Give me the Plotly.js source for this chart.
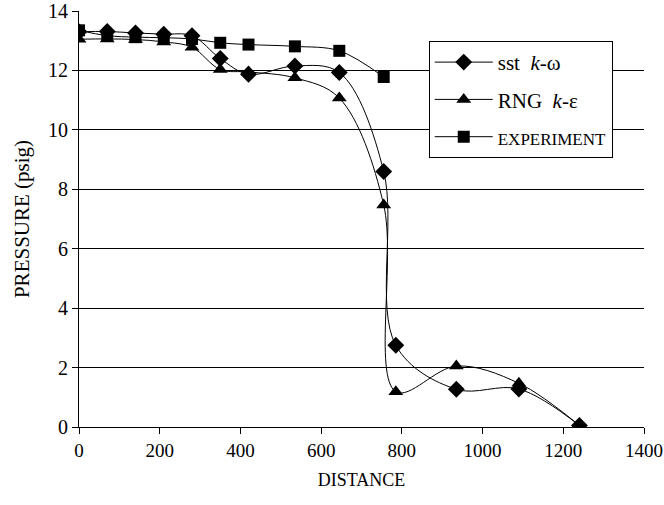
<!DOCTYPE html>
<html>
<head>
<meta charset="utf-8">
<script src="https://cdn.plot.ly/plotly-3.0.1.min.js"></script>
<style>html,body{margin:0;padding:0;background:#fff;}#chart{width:664px;height:505px;}</style>
</head>
<body>
<div id="chart"></div>
<script>
// Data
const simDistance = [0, 70, 140, 210, 280, 350, 420, 535, 645, 755, 785, 935, 1090, 1240];
const sstPressure = [13.3, 13.31, 13.26, 13.22, 13.17, 12.4, 11.87, 12.15, 11.93, 8.6, 2.75, 1.27, 1.28, 0.05];
const rngPressure = [13.05, 13.06, 13.04, 12.96, 12.78, 12.03, 11.95, 11.75, 11.07, 7.47, 1.19, 2.05, 1.47, 0.05];
const expDistance = [0, 70, 140, 210, 280, 350, 420, 535, 645, 755];
const expPressure = [13.35, 13.17, 13.12, 13.1, 13.06, 12.93, 12.87, 12.81, 12.66, 11.78];
const seriesNames = ['sst  <i>k</i>-ω', 'RNG  <i>k</i>-ε', '<span style="font-size:17px">EXPERIMENT</span>'];
const xTicks = [0, 200, 400, 600, 800, 1000, 1200, 1400];
const yTicks = [0, 2, 4, 6, 8, 10, 12, 14];

const lineStyle = {color: '#000', width: 1, shape: 'spline', smoothing: 1};

const traces = [
  {x: simDistance, y: sstPressure, name: seriesNames[0], legendgroup: 'a', mode: 'lines+markers',
   line: lineStyle, marker: {symbol: 'diamond', size: 13, color: '#000'}},
  {x: simDistance, y: rngPressure, name: seriesNames[1], legendgroup: 'b', mode: 'lines+markers',
   line: lineStyle, marker: {symbol: 'triangle-up', size: 13, color: '#000'}},
  {x: expDistance, y: expPressure, name: seriesNames[2], legendgroup: 'c', mode: 'lines+markers',
   line: lineStyle, marker: {symbol: 'square', size: 12, color: '#000'}}
];

const fam = '"Liberation Serif", "Times New Roman", serif';

const layout = {
  width: 664, height: 505,
  margin: {l: 79, r: 20, t: 11, b: 78},
  paper_bgcolor: '#fff', plot_bgcolor: '#fff',
  font: {family: fam, color: '#000', size: 20},
  showlegend: true,
  legend: {
    x: 0.619, y: 0.928, xanchor: 'left', yanchor: 'top',
    bgcolor: '#fff', bordercolor: '#000', borderwidth: 1,
    font: {family: fam, size: 21, color: '#000'},
    traceorder: 'grouped', tracegroupgap: 7,
    itemwidth: 58
  },
  xaxis: {
    range: [0, 1400], tickvals: xTicks, ticktext: xTicks.map(String),
    ticks: 'outside', ticklen: 6, tickcolor: '#000', showline: true, linecolor: '#000', linewidth: 1,
    showgrid: false, zeroline: false, ticklabeloverflow: 'allow',
    tickfont: {family: fam, size: 19, color: '#000'},
    title: {text: 'DISTANCE', font: {family: fam, size: 18, color: '#000'}, standoff: 13}
  },
  yaxis: {
    range: [0, 14], tickvals: yTicks, ticktext: yTicks.map(String),
    ticks: 'outside', ticklen: 6, tickcolor: '#000', showline: true, linecolor: '#000', linewidth: 1,
    showgrid: true, gridcolor: '#000', gridwidth: 1, zeroline: false, ticklabeloverflow: 'allow',
    tickfont: {family: fam, size: 20, color: '#000'},
    title: {text: 'PRESSURE (psig)', font: {family: fam, size: 21, color: '#000'}, standoff: 12}
  }
};

Plotly.newPlot('chart', traces, layout, {displayModeBar: false, staticPlot: true});
</script>
</body>
</html>
